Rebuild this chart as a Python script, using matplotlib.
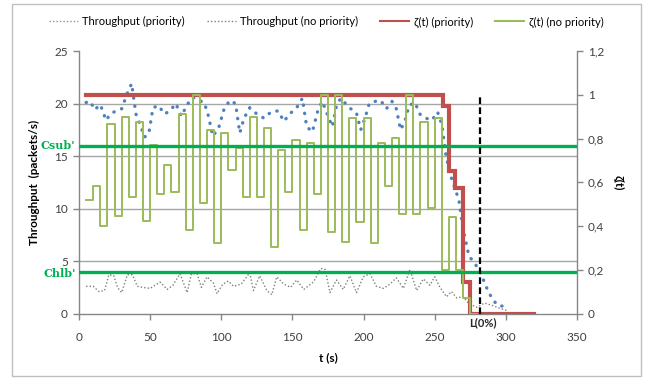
import matplotlib
matplotlib.use("Agg")
import matplotlib.pyplot as plt
from matplotlib.patches import Rectangle
from matplotlib.lines import Line2D

plt.rcParams['font.family'] = ['Lato', 'DejaVu Sans']

# ---------------- data ----------------
t_thr_pri = [5, 8, 11, 15, 19, 22, 26, 30, 34, 37, 40, 43, 46, 49, 52, 56, 60, 64, 68, 72,
             76, 80, 84, 88, 91, 94, 98, 102, 106, 110, 113, 116, 120, 125, 130, 135, 140,
             144, 148, 153, 157, 160, 164, 168, 171, 175, 178, 181, 184, 188, 191, 195, 198,
             201, 204, 208, 212, 216, 220, 223, 226, 229, 232, 236, 240, 244, 248, 252, 255,
             258, 261, 264, 267, 270, 274, 278, 282, 286, 290, 294, 298, 301]
thr_pri = [20.1, 20.2, 19.4, 19.9, 18.4, 19.0, 19.3, 19.5, 21.0, 21.9, 19.0, 18.0, 16.8, 17.1,
           19.6, 19.8, 19.0, 19.3, 20.0, 18.8, 19.9, 20.6, 20.3, 20.1, 18.8, 16.9, 17.6, 19.5,
           20.3, 20.0, 17.2, 18.6, 19.6, 19.0, 18.6, 19.2, 19.3, 18.3, 19.0, 19.6, 20.5, 17.8,
           17.3, 19.4, 20.2, 18.8, 17.8, 19.8, 20.5, 19.9, 19.5, 19.1, 17.5, 18.6, 20.0, 20.2,
           20.3, 19.5, 20.2, 19.5, 17.5, 18.3, 19.8, 20.1, 18.9, 18.6, 18.4, 19.2, 18.0, 15.0,
           13.2, 12.0, 10.8, 8.0, 5.5, 4.8, 4.0, 2.6, 1.5, 0.8, 0.7, 0.3]

t_thr_nopri = [5, 10, 14, 18, 21, 24.5, 27, 30, 34, 37.5, 41, 44.5, 50, 57, 62, 66, 71, 76, 79,
               83, 86, 90, 94.5, 97, 101, 105, 108.6, 114, 120, 122.6, 127, 132, 135.5, 139,
               144, 148.7, 153, 158, 164.7, 170, 173, 176.4, 181, 185.7, 190.4, 195, 199.8,
               204.5, 209, 214, 218.5, 223, 228, 232.6, 237.3, 242, 246.6, 250, 253.7, 258.3,
               261.8, 265.4, 270, 273.6, 279.4, 285, 290, 295.8, 300.5]
thr_nopri = [2.6, 2.6, 2.1, 2.2, 3.7, 3.6, 2.5, 2.0, 3.7, 3.7, 2.6, 2.5, 2.4, 3.0, 2.3, 2.7,
             3.8, 2.0, 3.8, 3.8, 2.5, 3.5, 2.9, 1.9, 2.8, 3.1, 2.6, 2.8, 3.9, 2.2, 3.6, 2.2,
             1.8, 3.5, 2.8, 2.5, 3.2, 2.3, 3.0, 4.3, 4.2, 2.0, 3.2, 2.3, 3.6, 2.0, 3.5, 3.8,
             2.6, 2.4, 2.8, 3.4, 2.4, 4.2, 2.2, 3.3, 2.7, 3.5, 2.5, 1.6, 2.1, 1.5, 1.6, 1.0,
             0.6, 1.0, 0.8, 0.5, 0.3]

t_zeta_pri = [5, 256, 260, 264, 270, 275, 320]
zeta_pri = [1.0, 0.95, 0.652, 0.575, 0.145, 0.0, 0.0]

t_zeta_nopri = list(range(5, 285, 5))
zeta_nopri = [0.52, 0.585, 0.40, 0.865, 0.446, 0.90, 0.534, 0.877, 0.425, 0.77,
              0.545, 0.68, 0.557, 0.91, 0.382, 0.999, 0.504, 0.839, 0.321, 0.824,
              0.656, 0.755, 0.534, 0.90, 0.534, 0.847, 0.306, 0.748, 0.557, 0.793,
              0.382, 0.778, 0.548, 0.999, 0.374, 0.999, 0.329, 0.893, 0.42, 0.893,
              0.324, 0.781, 0.583, 0.804, 0.455, 0.999, 0.455, 0.877, 0.481, 0.893,
              0.199, 0.443, 0.199, 0.07, 0.0, 0.0]

c_sub = 16.0
c_hlb = 4.0
t_limit = 282
limit_label = "L(0%)"

x_ticks = [0, 50, 100, 150, 200, 250, 300, 350]
y_ticks = [0, 5, 10, 15, 20, 25]
y2_ticks = [0, 0.2, 0.4, 0.6, 0.8, 1.0, 1.2]
y2_labels = ["0", "0,2", "0,4", "0,6", "0,8", "1", "1,2"]

# ---------------- figure ----------------
W, H = 652, 382
fig = plt.figure(figsize=(W / 100, H / 100), dpi=100)
fig.patch.set_facecolor("white")
fig.add_artist(Rectangle((12 / W, 1 - 376 / H), (641 - 12) / W, (376 - 4) / H,
                         transform=fig.transFigure, fill=False, edgecolor="#BFBFBF", lw=1))

left, right, bottom, top = 79, 577, 313.6, 51
ax = fig.add_axes([left / W, 1 - bottom / H, (right - left) / W, (bottom - top) / H])
ax2 = ax.twinx()

tick_col = "#404040"
axis_col = "#868686"

ax.set_xlim(0, 350)
ax.set_ylim(0, 25)
ax2.set_ylim(0, 1.2)

for y in [5, 10, 15, 20]:
    ax.axhline(y, color="#A6A6A6", lw=1, zorder=0)

ax.plot(t_thr_nopri, thr_nopri, color="#7F7F7F", lw=1.0, linestyle=(0, (1, 1.5)), zorder=2)
ax.plot(t_thr_pri, thr_pri, color="#4F81BD", lw=2.4, linestyle=(0, (0.1, 2.4)),
        dash_capstyle="round", zorder=3)

ax2.plot(t_zeta_pri, zeta_pri, color="#C0504D", lw=3.0, drawstyle="steps-post",
         solid_joinstyle="miter", zorder=3)
ax2.plot(t_zeta_nopri, zeta_nopri, color="#9BBB59", lw=1.4, drawstyle="steps-post", zorder=4)

for c in [c_sub, c_hlb]:
    ax2.axhline(c / 25 * 1.2, color="#00B050", lw=2.4, zorder=6)
ax2.plot([t_limit, t_limit], [0, 1.005], color="black", lw=1.6, linestyle=(0, (3, 1.5)), zorder=7)

# axes styling
for a in (ax, ax2):
    for s in a.spines.values():
        s.set_visible(False)
ax.spines["left"].set_visible(True)
ax.spines["bottom"].set_visible(True)
ax2.spines["right"].set_visible(True)
for s in [ax.spines["left"], ax.spines["bottom"], ax2.spines["right"]]:
    s.set_color(axis_col)
    s.set_linewidth(1)

ax.set_xticks(x_ticks)
ax.set_yticks(y_ticks)
ax2.set_yticks(y2_ticks)
ax2.set_yticklabels(y2_labels)
ax.tick_params(axis="both", direction="out", length=4, width=1, color=axis_col,
               labelsize=8.5, labelcolor=tick_col)
ax.tick_params(axis="x", pad=9)
ax.tick_params(axis="y", pad=4)
ax2.tick_params(axis="y", direction="out", length=4, width=1, color=axis_col,
                labelsize=8.5, labelcolor=tick_col, pad=4)

ax.set_xlabel("t (s)", fontsize=8.5, fontweight="bold", labelpad=7)
ax.set_ylabel("Throughput  (packets/s)", fontsize=8.5, fontweight="bold", labelpad=10)
ax2.set_ylabel("ζ(t)", fontsize=8.5, fontweight="bold", rotation=270, labelpad=14)

ax.text(-2.5, c_sub, "Csub'", color="#00B050", fontsize=8, fontweight="bold",
        family="DejaVu Serif", ha="right", va="center", clip_on=False)
ax.text(-2.5, c_hlb - 0.2, "Chlb'", color="#00B050", fontsize=8, fontweight="bold",
        family="DejaVu Serif", ha="right", va="center", clip_on=False)
ax.text(t_limit + 2, -0.9, limit_label, fontsize=8, fontweight="bold", color="#262626",
        ha="center", va="center", clip_on=False)

handles = [
    Line2D([], [], color="#7F93B0", lw=1.0, linestyle=(0, (1, 1.5))),
    Line2D([], [], color="#7F7F7F", lw=1.0, linestyle=(0, (1, 1.5))),
    Line2D([], [], color="#C0504D", lw=1.5),
    Line2D([], [], color="#9BBB59", lw=1.5),
]
labels = ["Throughput (priority)", "Throughput (no priority)", "ζ(t) (priority)", "ζ(t) (no priority)"]
fig.legend(handles, labels, loc="center", bbox_to_anchor=(0.5, 1 - 22 / H), ncol=4,
           frameon=False, fontsize=8, handlelength=2.6, columnspacing=2.0, handletextpad=0.4)

fig.savefig("out.png", dpi=100, facecolor="white")
